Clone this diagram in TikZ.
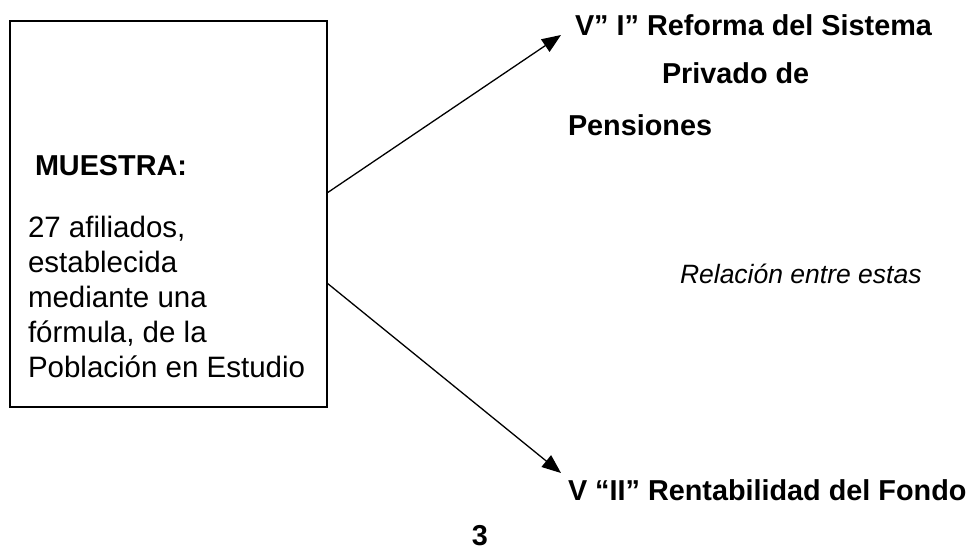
\documentclass[tikz,border=0pt]{standalone}
\usepackage{fontspec}
\setmainfont{Liberation Sans}
\usetikzlibrary{arrows.meta}
\begin{document}
\begin{tikzpicture}[x=1pt,y=-1pt,
  every node/.style={inner sep=0pt,outer sep=0pt},
  bigtxt/.style={font=\fontsize{29.5}{35}\selectfont},
  boldtxt/.style={font=\fontsize{28.8}{34}\selectfont\bfseries},
  conn/.style={line width=1.3pt,-{Triangle[length=19pt,width=15pt]}}]
\useasboundingbox (0,0) rectangle (971,550);
\node[draw,line width=1.5pt,minimum width=317pt,minimum height=386pt,anchor=north west] (box) at (10,21) {};
\node[boldtxt,anchor=base west] (muestra) at (35,175) {MUESTRA:};
\node[bigtxt,anchor=base west,align=left] (body) at (28,377)
  {27 afiliados,\\ establecida\\ mediante una\\ fórmula, de la\\ Población en Estudio};
\node[boldtxt,anchor=base west] (v1a) at (575,35) {V” I” Reforma del Sistema};
\node[boldtxt,anchor=base west] (v1b) at (662,83) {Privado de};
\node[boldtxt,anchor=base west] (v1c) at (568,135) {Pensiones};
\node[font=\fontsize{26.5}{32}\selectfont\itshape,anchor=base west] (rel) at (680,283) {Relación entre estas};
\node[boldtxt,anchor=base west] (v2) at (568,500) {V “II” Rentabilidad del Fondo};
\node[boldtxt,anchor=base] (pg) at (480,545) {3};
\coordinate (t1) at (561,35);
\coordinate (t2) at (561,473);
\draw[conn] ([yshift=21pt]box.east) -- (t1);
\draw[conn] ([yshift=-69pt]box.east) -- (t2);
\end{tikzpicture}
\end{document}
